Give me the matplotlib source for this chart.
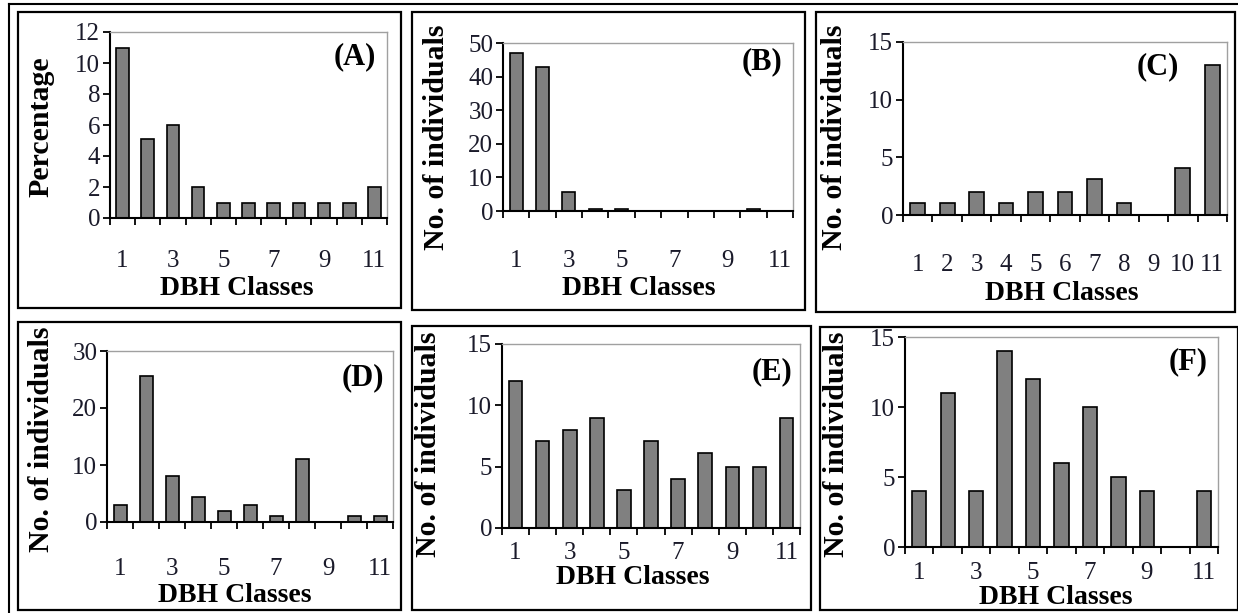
import numpy as np
import matplotlib.pyplot as plt
from matplotlib.patches import Rectangle
from matplotlib.lines import Line2D

plt.rcParams['font.family'] = ['Liberation Serif', 'DejaVu Serif']

W, H = 1238, 613

classes = np.arange(1, 12)
pct_a = [11, 5.1, 6, 2, 1, 1, 1, 1, 1, 1, 2]
ind_b = [47, 43, 5.6, 0.5, 0.5, 0, 0, 0, 0, 0.5, 0]
ind_c = [1, 1, 2, 1, 2, 2, 3.1, 1, 0, 4.1, 13]
ind_d = [3, 25.7, 8, 4.3, 2, 3, 1, 11, 0, 1, 1]
ind_e = [12, 7.1, 8, 9, 3.1, 7.1, 4, 6.1, 5, 5, 9]
ind_f = [4, 11, 4, 14, 12, 6, 10, 5, 4, 0, 4]

odd_labels = [1, 3, 5, 7, 9, 11]
all_labels = list(range(1, 12))

# (letter, values, ylabel, ymax, ystep, xticklabels,
#  axes px box (x0, x1, ytop, yzero), letter pos (axes frac), xtick pad pt,
#  xlabel centre px, ylabel centre px, frame px box)
panels = [
    ("(A)", pct_a, "Percentage", 12, 2, odd_labels,
     (110, 387, 32, 218), (0.885, 0.866), 23, (237, 288), (41, 127), (18, 12, 401, 308)),
    ("(B)", ind_b, "No. of individuals", 50, 10, odd_labels,
     (503, 793, 43, 211), (0.893, 0.887), 28, (639, 288), (437, 137), (412, 12, 805, 310)),
    ("(C)", ind_c, "No. of individuals", 15, 5, all_labels,
     (903, 1227, 42, 215), (0.787, 0.855), 28, (1062, 293), (835, 137), (816, 12, 1235, 312)),
    ("(D)", ind_d, "No. of individuals", 30, 10, odd_labels,
     (107, 393, 351, 522), (0.895, 0.842), 26, (235, 595), (42, 439), (18, 322, 401, 610)),
    ("(E)", ind_e, "No. of individuals", 15, 5, odd_labels,
     (502, 800, 344, 528), (0.906, 0.848), 10, (633, 577), (429, 444), (412, 326, 811, 610)),
    ("(F)", ind_f, "No. of individuals", 15, 5, odd_labels,
     (905, 1218, 337, 547), (0.904, 0.881), 10.5, (1056, 597), (837, 444), (820, 327, 1238, 610)),
]

fig = plt.figure(figsize=(W / 100, H / 100), dpi=100)
fig.patch.set_facecolor('white')

def fx(px):
    return px / W

def fy(py):
    return 1 - py / H

# outer frame lines
fig.add_artist(Line2D([fx(9), fx(9)], [fy(4), fy(613)], color='black', lw=1.5))
fig.add_artist(Line2D([fx(9), fx(1238)], [fy(4), fy(4)], color='black', lw=1.5))

for (letter, vals, ylab, ymax, ystep, xlabs, box, lpos, xpad,
     xl, yl, frame) in panels:
    x0, x1, yt, yz = box
    ax = fig.add_axes([fx(x0), fy(yz), (x1 - x0) / W, (yz - yt) / H])
    ax.bar(classes, vals, width=0.5, color='#808080', edgecolor='black', linewidth=1.2)
    ax.set_xlim(0.5, 11.5)
    ax.set_ylim(0, ymax)
    ax.set_yticks(np.arange(0, ymax + 0.1, ystep))
    ax.set_xticks(xlabs)
    ax.set_xticklabels([str(v) for v in xlabs])
    ax.set_xticks(np.arange(0.5, 12, 1), minor=True)
    ax.tick_params(axis='x', which='major', length=0, pad=xpad, labelsize=18,
                   labelcolor='#1a1a2a')
    ax.tick_params(axis='x', which='minor', length=5, width=1.3, direction='out')
    ax.tick_params(axis='y', length=5, width=1.3, pad=2, labelsize=18,
                   labelcolor='#1a1a2a')
    for s in ('left', 'bottom'):
        ax.spines[s].set_color('black')
        ax.spines[s].set_linewidth(1.5)
    for s in ('top', 'right'):
        ax.spines[s].set_color('#a0a0a0')
        ax.spines[s].set_linewidth(1.0)
    ax.text(lpos[0], lpos[1], letter, transform=ax.transAxes, ha='center', va='center',
            fontsize=22, fontweight='bold')
    fig.text(fx(xl[0]), fy(xl[1]), "DBH Classes", ha='center', va='center',
             fontsize=20, fontweight='bold')
    fig.text(fx(yl[0]), fy(yl[1]), ylab, ha='center', va='center', rotation=90,
             fontsize=21.5, fontweight='bold')
    fx0, fy0, fx1, fy1 = frame
    fig.add_artist(Rectangle((fx(fx0), fy(fy1)), (fx1 - fx0) / W, (fy1 - fy0) / H,
                             transform=fig.transFigure, fill=False,
                             edgecolor='black', linewidth=1.6))

fig.savefig('out.png', dpi=100)
